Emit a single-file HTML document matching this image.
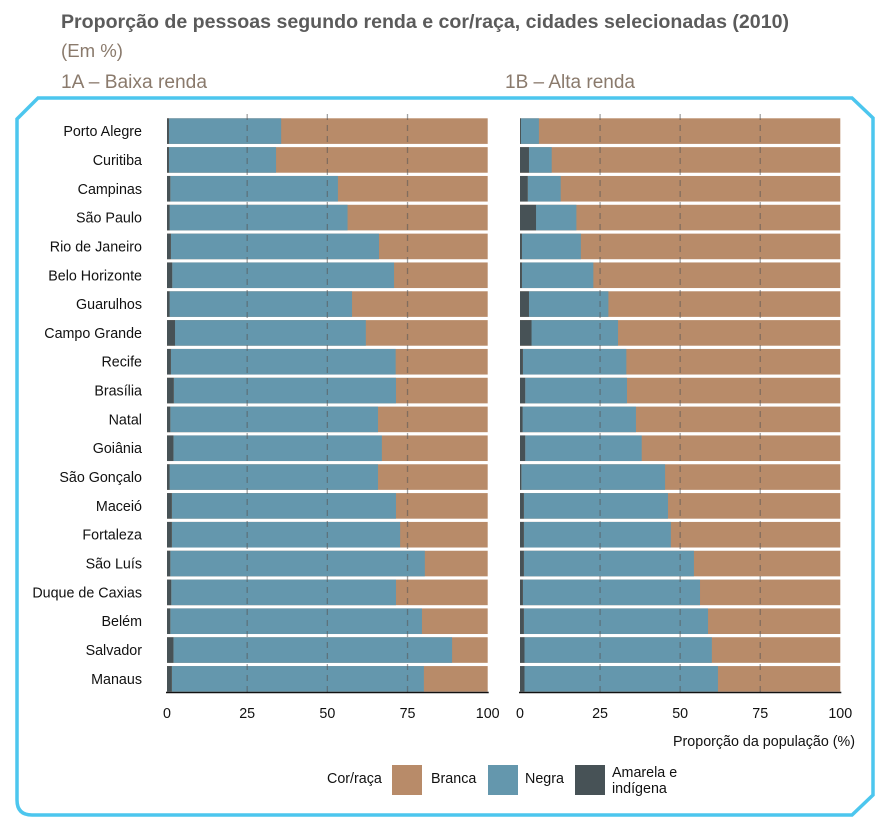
<!DOCTYPE html>
<html><head><meta charset="utf-8"><style>
body{margin:0;background:#fff}
svg{display:block;font-family:"Liberation Sans",sans-serif}
</style></head><body>
<svg id="c" width="887" height="825" viewBox="0 0 887 825">
<text x="61" y="28" font-size="19" font-weight="bold" fill="#5b5b5b" textLength="728" lengthAdjust="spacingAndGlyphs">Proporção de pessoas segundo renda e cor/raça, cidades selecionadas (2010)</text>
<text x="61" y="57" font-size="18" fill="#8a7a6c" textLength="62" lengthAdjust="spacingAndGlyphs">(Em %)</text>
<text x="61" y="88" font-size="19" fill="#8a7a6c" textLength="146" lengthAdjust="spacingAndGlyphs">1A – Baixa renda</text>
<text x="505" y="88" font-size="19" fill="#8a7a6c" textLength="130" lengthAdjust="spacingAndGlyphs">1B – Alta renda</text>
<path d="M38,98 L852,98 L873,118 L873,795 L852,815 L32,815 Q17,815 17,800 L17,119 Z" fill="none" stroke="#4cc6ee" stroke-width="3.5"/>
<g id="plot"></g>
<text x="855" y="746" font-size="14.3" fill="#111" text-anchor="end">Proporção da população (%)</text>
<g>
<text x="327" y="783" font-size="14.3" fill="#111">Cor/raça</text>
<rect x="392" y="765" width="30" height="30" fill="#b88b69"/>
<text x="431" y="783" font-size="14.3" fill="#111">Branca</text>
<rect x="488" y="765" width="30" height="30" fill="#6497ad"/>
<text x="525" y="783" font-size="14.3" fill="#111">Negra</text>
<rect x="575" y="765" width="30" height="30" fill="#475256"/>
<text x="612" y="777" font-size="14.3" fill="#111">Amarela e</text>
<text x="612" y="793" font-size="14.3" fill="#111">indígena</text>
</g>
</svg>
<script>
const cities=["Porto Alegre","Curitiba","Campinas","São Paulo","Rio de Janeiro","Belo Horizonte","Guarulhos","Campo Grande","Recife","Brasília","Natal","Goiânia","São Gonçalo","Maceió","Fortaleza","São Luís","Duque de Caxias","Belém","Salvador","Manaus"];
const lowAmarela=[0.6,0.6,1.0,0.8,1.2,1.6,0.8,2.5,1.2,2.1,1.0,2.0,0.8,1.5,1.5,1.0,1.3,1.0,2.0,1.5];
const lowNegra=[35.0,33.4,52.3,55.5,64.9,69.2,56.9,59.5,70.1,69.3,64.8,65.0,65.0,69.9,71.2,79.4,70.1,78.5,86.9,78.6];
const highAmarela=[0.3,2.8,2.4,5.0,0.6,0.6,2.8,3.6,0.9,1.6,0.8,1.6,0.4,1.2,1.2,1.2,0.9,1.2,1.4,1.4];
const highNegra=[5.6,7.1,10.3,12.6,18.4,22.3,24.8,27.0,32.3,31.8,35.4,36.4,44.9,45.0,45.9,53.1,55.3,57.5,58.5,60.4];
const ticks=[0,25,50,75,100];
const NS="http://www.w3.org/2000/svg";
const plot=document.getElementById('plot');
function mk(t,a){const e=document.createElementNS(NS,t);for(const k in a)e.setAttribute(k,a[k]);plot.appendChild(e);return e;}
const rowTop=118.3,pitch=28.83,barH=25.6;
function yOf(i){return rowTop+i*pitch;}
function panel(x0,x1,am,ng,key){
  const sx=v=>x0+(x1-x0)*v/100;
  cities.forEach((c,i)=>{
    const y=yOf(i);
    let r=mk('rect',{x:sx(0),y:y,width:sx(100)-sx(0),height:barH,fill:'#b88b69'});
    
    
    r=mk('rect',{x:sx(am[i]),y:y,width:sx(am[i]+ng[i])-sx(am[i]),height:barH,fill:'#6497ad'});
    
    
    r=mk('rect',{x:sx(0),y:y,width:sx(am[i])-sx(0),height:barH,fill:'#475256'});
    
    
  });
  ticks.forEach(t=>{
    if(t>0&&t<100){
      const l=mk('line',{x1:sx(t),x2:sx(t),y1:114,y2:692,stroke:'#555','stroke-opacity':0.55,'stroke-width':1.3,'stroke-dasharray':'6,5'});
      
      
    }
    const tx=mk('text',{x:sx(t),y:718,'font-size':14.3,fill:'#111','text-anchor':'middle'});
    tx.textContent=t;
    
    
  });
  const ax=mk('line',{x1:sx(0)-1,x2:sx(100)+1,y1:692.5,y2:692.5,stroke:'#111','stroke-width':1.5});
  
  
}
panel(167,487.7,lowAmarela,lowNegra,'low');
panel(520,840.3,highAmarela,highNegra,'high');
cities.forEach((c,i)=>{
  const t=mk('text',{x:142,y:yOf(i)+barH/2+5,'font-size':14.3,fill:'#111','text-anchor':'end'});
  t.textContent=c;
  
  
});
</script>
</body></html>
